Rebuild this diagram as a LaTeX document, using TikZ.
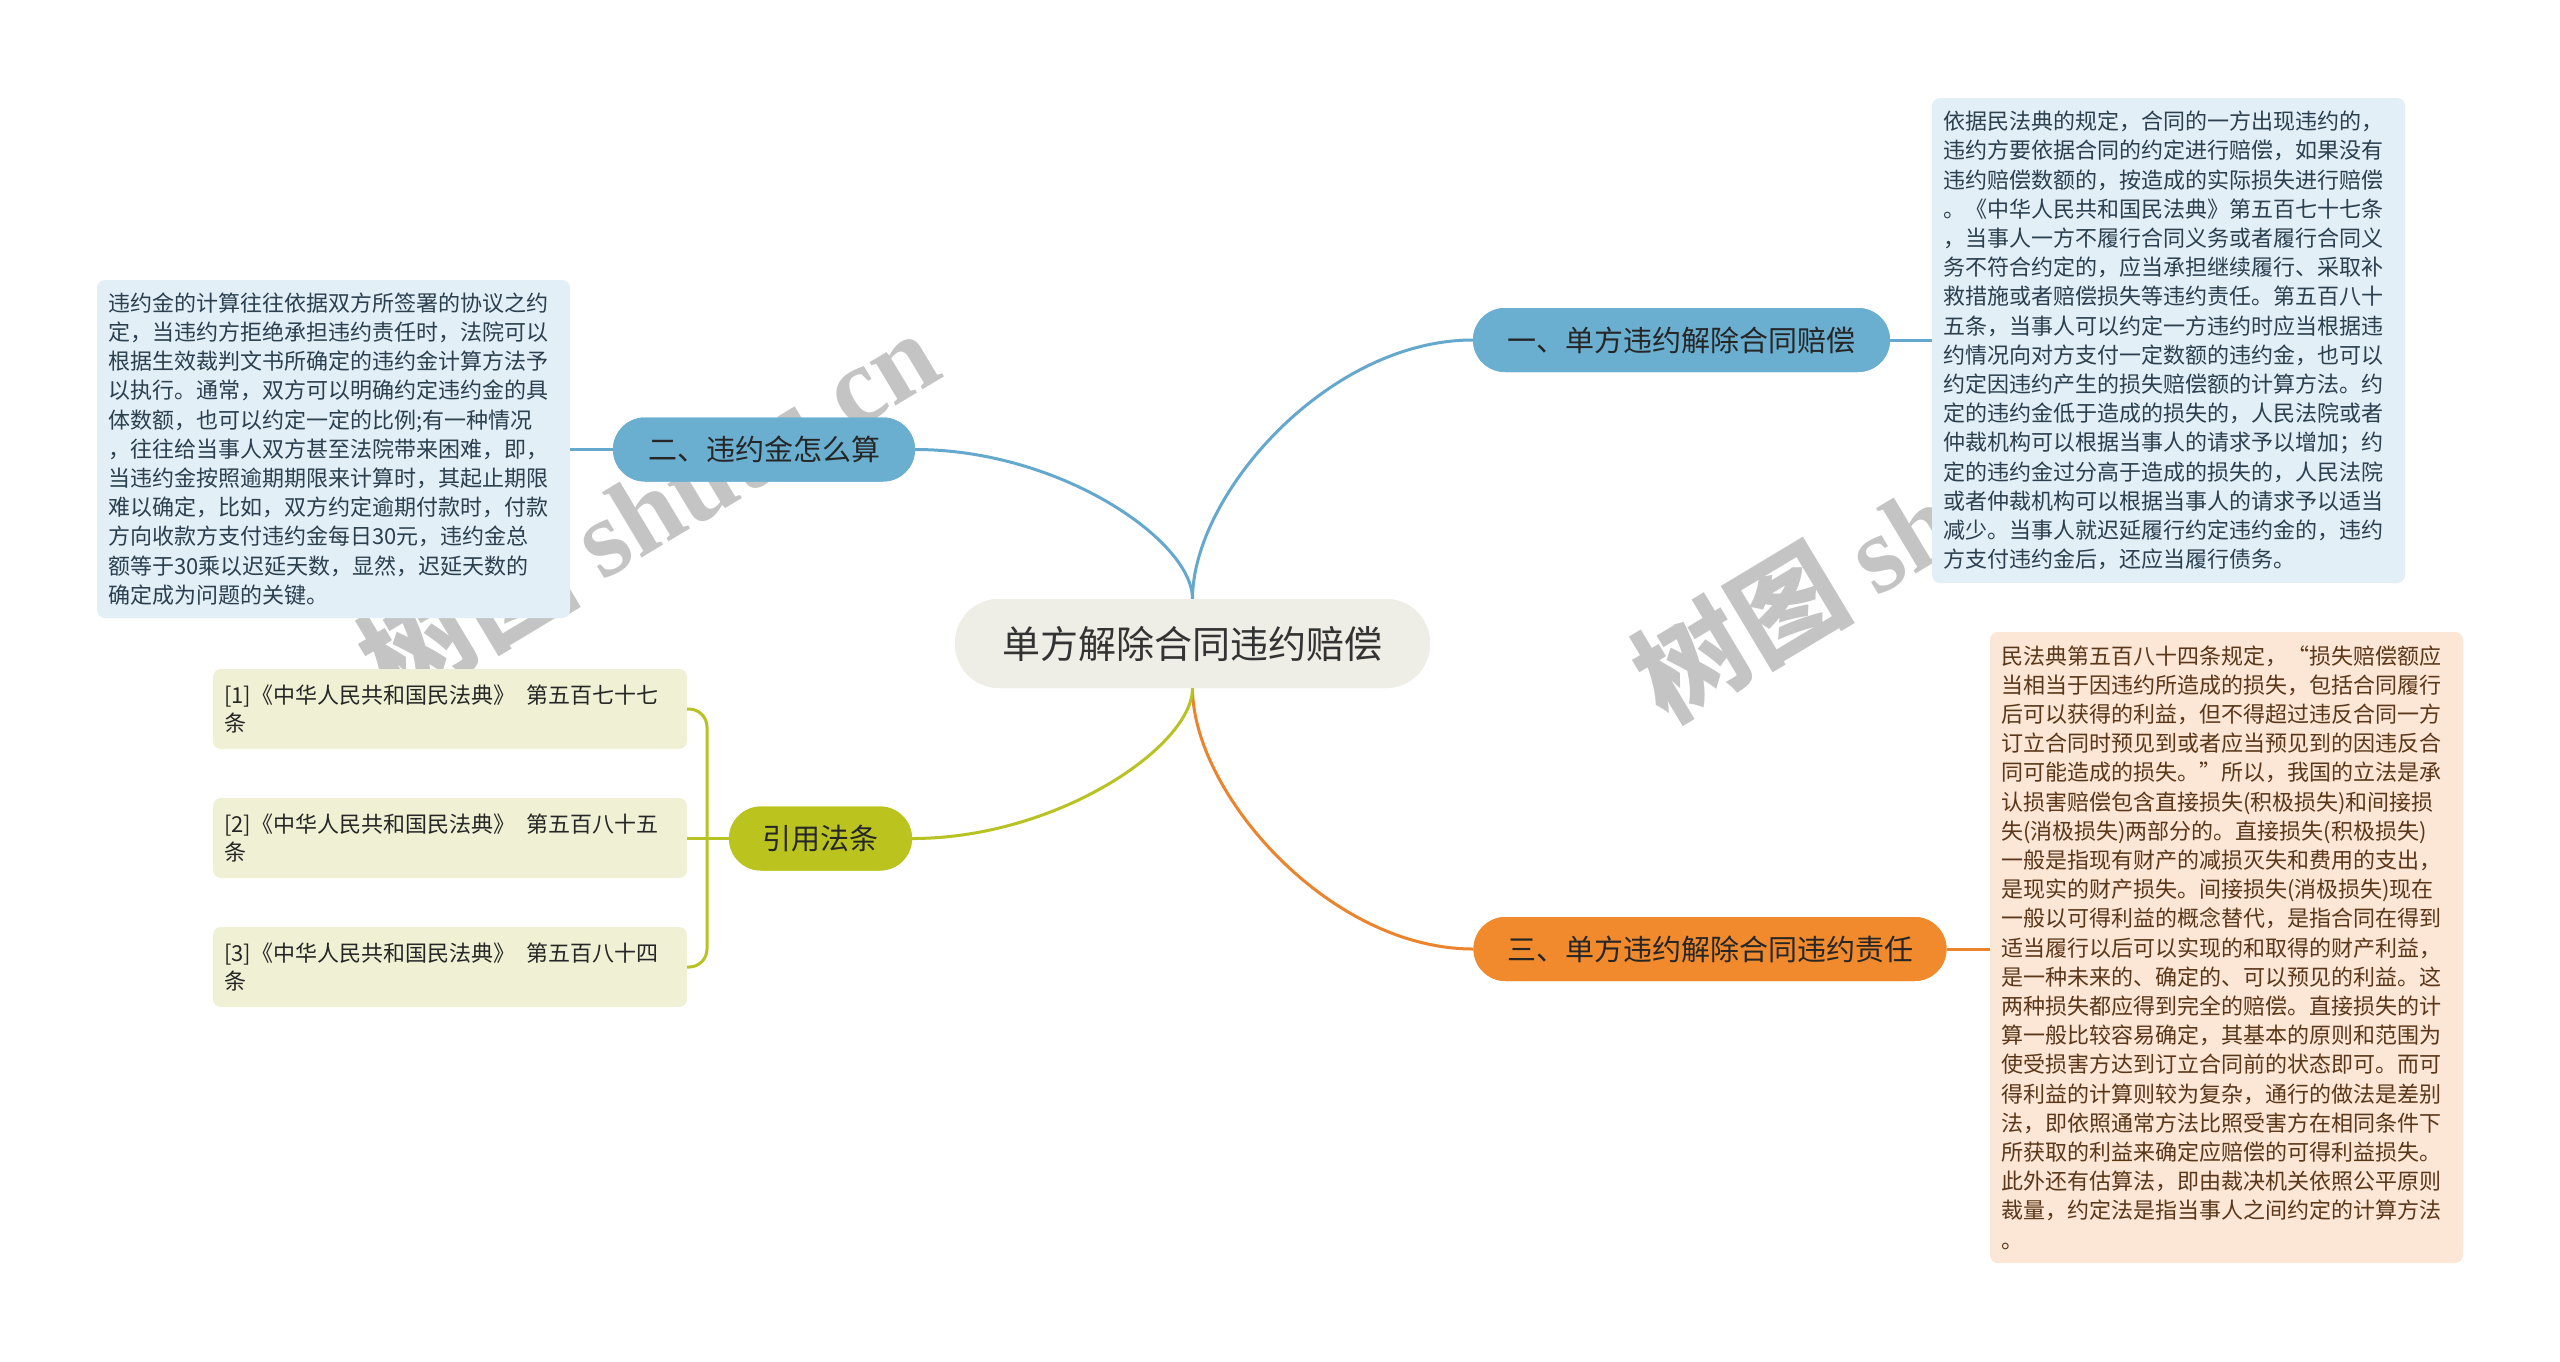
\documentclass[tikz,border=0pt]{standalone}
\usepackage{fontspec}
\setmainfont{Noto Sans CJK SC}
\newfontfamily\wmlatin{Liberation Serif}
\definecolor{cfill}{HTML}{EEEEE6}
\definecolor{bblue}{HTML}{6AAED0}
\definecolor{lblue}{HTML}{E2EFF7}
\definecolor{tblue}{HTML}{2B3F4E}
\definecolor{borange}{HTML}{F08A2C}
\definecolor{lorange}{HTML}{FCE6D6}
\definecolor{torange}{HTML}{5A3719}
\definecolor{bgreen}{HTML}{BBC41E}
\definecolor{lgreen}{HTML}{F0F1D4}
\definecolor{kblue}{HTML}{64A8CD}
\definecolor{korange}{HTML}{EC842D}
\definecolor{kgreen}{HTML}{B8C223}
\definecolor{wmgray}{HTML}{C4C4C4}
\tikzset{
  x=1pt, y=-1pt,
  leafbox/.style={rounded corners=8pt, inner xsep=11pt, inner ysep=0pt, align=left,
    text width=451pt, font=\fontsize{22}{29.2}\selectfont},
  refbox/.style={leafbox, fill=lgreen, text=black!85, minimum height=80pt,
    text width=452pt, font=\fontsize{22}{28}\selectfont},
  branchbox/.style={rounded corners=32pt, minimum height=64pt, inner sep=0pt,
    text=black!85, font=\fontsize{29}{34}\selectfont},
  centrebox/.style={fill=cfill, rounded corners=44pt, minimum width=475pt, minimum height=89pt,
    inner sep=0pt, text=black!80, font=\fontsize{38}{44}\selectfont},
  conn/.style={line width=3pt},
  wmark/.style={text=wmgray, rotate=31, inner sep=0pt,
    font=\fontsize{110}{120}\selectfont\bfseries}
}
\begin{document}
\begin{tikzpicture}
\useasboundingbox[fill=white] (0,0) rectangle (2560,1361);

% watermarks (behind everything)
\node[wmark] (w1) at (648,506) {树图 {\wmlatin\bfseries shutu.cn}};
\node[wmark] (w2) at (1922,522) {树图 {\wmlatin\bfseries shutu.cn}};

% node positions
\node[centrebox] (c) at (1192.5,643.5) {单方解除合同违约赔偿};
\node[branchbox, fill=bblue, minimum width=417pt] (b1) at (1681.5,340) {一、单方违约解除合同赔偿};
\node[branchbox, fill=bblue, minimum width=302pt] (b2) at (764,449.5) {二、违约金怎么算};
\node[branchbox, fill=borange, minimum width=473pt] (b3) at (1710,949) {三、单方违约解除合同违约责任};
\node[branchbox, fill=bgreen, minimum width=183pt] (b4) at (820.5,838.5) {引用法条};

% connectors from the centre
\draw[conn, kblue] (c.north) .. controls +(0,-104) and +(-145,0) .. (b1.west);
\draw[conn, kblue] (c.north) .. controls +(0,-58) and +(145,0) .. (b2.east);
\draw[conn, korange] (c.south) .. controls +(0,104) and +(-145,0) .. (b3.west);
\draw[conn, kgreen] (c.south) .. controls +(0,58) and +(145,0) .. (b4.east);

% redraw centre and branches over connector ends
\node[centrebox] at (c) {单方解除合同违约赔偿};
\node[branchbox, fill=bblue, minimum width=417pt] at (b1) {一、单方违约解除合同赔偿};
\node[branchbox, fill=bblue, minimum width=302pt] at (b2) {二、违约金怎么算};
\node[branchbox, fill=borange, minimum width=473pt] at (b3) {三、单方违约解除合同违约责任};
\node[branchbox, fill=bgreen, minimum width=183pt] at (b4) {引用法条};

% leaves
\node[leafbox, fill=lblue, text=tblue, minimum height=485pt] (l1) at (2168.5,340.5) {依据民法典的规定，合同的一方出现违约的，\\违约方要依据合同的约定进行赔偿，如果没有\\违约赔偿数额的，按造成的实际损失进行赔偿\\。《中华人民共和国民法典》第五百七十七条\\，当事人一方不履行合同义务或者履行合同义\\务不符合约定的，应当承担继续履行、采取补\\救措施或者赔偿损失等违约责任。第五百八十\\五条，当事人可以约定一方违约时应当根据违\\约情况向对方支付一定数额的违约金，也可以\\约定因违约产生的损失赔偿额的计算方法。约\\定的违约金低于造成的损失的，人民法院或者\\仲裁机构可以根据当事人的请求予以增加；约\\定的违约金过分高于造成的损失的，人民法院\\或者仲裁机构可以根据当事人的请求予以适当\\减少。当事人就迟延履行约定违约金的，违约\\方支付违约金后，还应当履行债务。};

\node[leafbox, fill=lblue, text=tblue, minimum height=338pt] (l2) at (333.5,449) {违约金的计算往往依据双方所签署的协议之约\\定，当违约方拒绝承担违约责任时，法院可以\\根据生效裁判文书所确定的违约金计算方法予\\以执行。通常，双方可以明确约定违约金的具\\体数额，也可以约定一定的比例;有一种情况\\，往往给当事人双方甚至法院带来困难，即，\\当违约金按照逾期期限来计算时，其起止期限\\难以确定，比如，双方约定逾期付款时，付款\\方向收款方支付违约金每日30元，违约金总\\额等于30乘以迟延天数，显然，迟延天数的\\确定成为问题的关键。};

\node[leafbox, fill=lorange, text=torange, minimum height=631pt] (l3) at (2226.5,947.5) {民法典第五百八十四条规定，“损失赔偿额应\\当相当于因违约所造成的损失，包括合同履行\\后可以获得的利益，但不得超过违反合同一方\\订立合同时预见到或者应当预见到的因违反合\\同可能造成的损失。”所以，我国的立法是承\\认损害赔偿包含直接损失(积极损失)和间接损\\失(消极损失)两部分的。直接损失(积极损失)\\一般是指现有财产的减损灭失和费用的支出，\\是现实的财产损失。间接损失(消极损失)现在\\一般以可得利益的概念替代，是指合同在得到\\适当履行以后可以实现的和取得的财产利益，\\是一种未来的、确定的、可以预见的利益。这\\两种损失都应得到完全的赔偿。直接损失的计\\算一般比较容易确定，其基本的原则和范围为\\使受损害方达到订立合同前的状态即可。而可\\得利益的计算则较为复杂，通行的做法是差别\\法，即依照通常方法比照受害方在相同条件下\\所获取的利益来确定应赔偿的可得利益损失。\\此外还有估算法，即由裁决机关依照公平原则\\裁量，约定法是指当事人之间约定的计算方法\\。};

\node[refbox] (r1) at (450,709) {[1]《中华人民共和国民法典》\hspace{4pt} 第五百七十七\\条};
\node[refbox] (r2) at (450,838) {[2]《中华人民共和国民法典》\hspace{4pt} 第五百八十五\\条};
\node[refbox] (r3) at (450,967) {[3]《中华人民共和国民法典》\hspace{4pt} 第五百八十四\\条};

% leaf connectors
\draw[conn, kblue] (b1.east) -- (b1.east -| l1.west);
\draw[conn, kblue] (b2.west) -- (b2.west -| l2.east);
\draw[conn, korange] (b3.east) -- (b3.east -| l3.west);
\coordinate (j) at (707,838.5);
\draw[conn, kgreen] (b4.west) -- (b4.west -| r2.east);
\draw[conn, kgreen, rounded corners=18pt] (j) |- (r1.east);
\draw[conn, kgreen, rounded corners=18pt] (j) |- (r3.east);
\end{tikzpicture}
\end{document}
